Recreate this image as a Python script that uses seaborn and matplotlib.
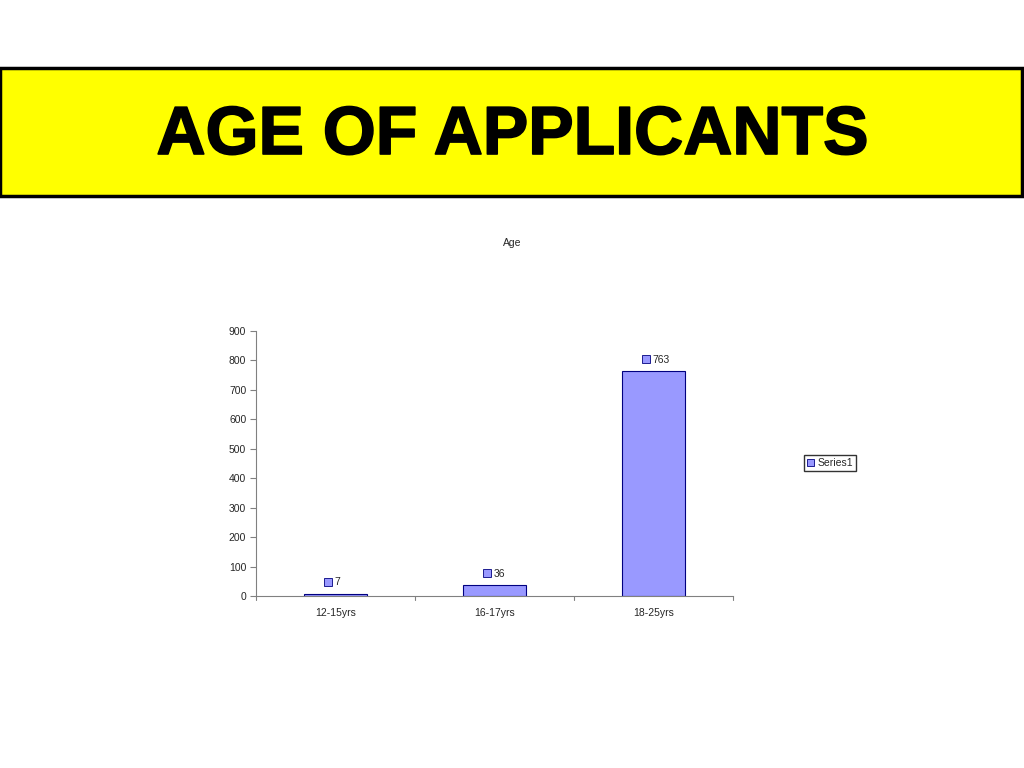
import matplotlib.pyplot as plt
import matplotlib.patheffects as pe
import seaborn as sns
import pandas as pd
from matplotlib.patches import Rectangle

age_groups = ["12-15yrs", "16-17yrs", "18-25yrs"]
applicants = [7, 36, 763]
y_ticks = [0, 100, 200, 300, 400, 500, 600, 700, 800, 900]

df = pd.DataFrame({"Age": age_groups, "Applicants": applicants})

sns.set_theme(style="white")
plt.rcParams["font.family"] = ["Liberation Sans", "DejaVu Sans"]

fig = plt.figure(figsize=(10.24, 7.68), dpi=100)

# yellow banner
banner = Rectangle((0.0, 1 - 196 / 768), 1022 / 1024, 128 / 768, transform=fig.transFigure,
                   facecolor="#FFFF00", edgecolor="black", linewidth=2.5)
fig.patches.append(banner)
fig.text(0.5, 1 - 136 / 768, "AGE OF APPLICANTS", ha="center", va="center",
         fontsize=49, fontweight="bold", color="black",
         path_effects=[pe.withStroke(linewidth=1.2, foreground="black")])

fig.text(0.5, 1 - 243 / 768, "Age", ha="center", va="center", fontsize=7.5)

ax = fig.add_axes([256 / 1024, 1 - 596 / 768, (733 - 256) / 1024, (596 - 331) / 768])
sns.barplot(data=df, x="Age", y="Applicants", color="#9999FF", edgecolor="#000080",
            linewidth=0.8, width=0.4, saturation=1, ax=ax)

ax.set_ylim(0, 900)
ax.set_xlim(-0.5, 2.5)
ax.set_yticks(y_ticks)
ax.set_xlabel("")
ax.set_ylabel("")
ax.tick_params(axis="both", labelsize=7.5, length=4, width=0.8, color="#808080",
               direction="out", pad=3)
ax.tick_params(axis="x", length=0, pad=9)
ax.tick_params(axis="y", left=True)
for x in [-0.5, 0.5, 1.5, 2.5]:
    ax.plot([x, x], [0, -12], color="#808080", lw=0.8, clip_on=False)
sns.despine(ax=ax, top=True, right=True)
for s in ["left", "bottom"]:
    ax.spines[s].set_color("#808080")
    ax.spines[s].set_linewidth(0.8)

# data labels with legend key
for i, v in enumerate(applicants):
    ax.plot(i - 0.045, v + 42, marker="s", markersize=5.5, markerfacecolor="#9999FF",
            markeredgecolor="#000080", markeredgewidth=0.6, clip_on=False)
    ax.text(i - 0.005, v + 40, str(v), ha="left", va="center", fontsize=7.5)

# legend
handle = Rectangle((0, 0), 1, 1, facecolor="#9999FF", edgecolor="#000080", linewidth=0.6)
fig.legend([handle], ["Series1"], loc="center", bbox_to_anchor=(830 / 1024, 1 - 463 / 768),
           fontsize=7.5, frameon=True, fancybox=False, edgecolor="black",
           handlelength=0.7, handleheight=0.7, handletextpad=0.3, borderpad=0.3,
           borderaxespad=0)

fig.savefig("out.png", dpi=100)
